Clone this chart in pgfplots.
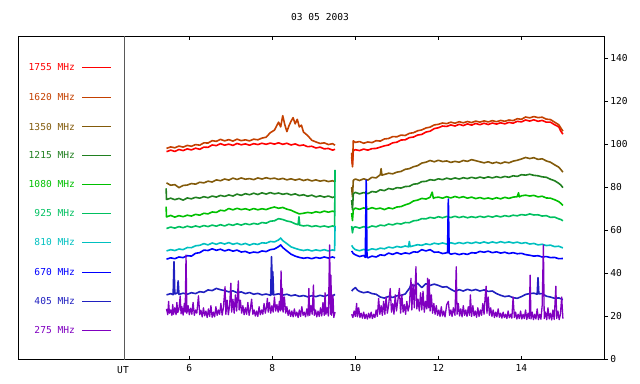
\documentclass[border=0pt]{standalone}
\usepackage{fontspec}
\setmainfont{DejaVu Sans Mono}
\usepackage{pgfplots}
\pgfplotsset{compat=1.18}
\definecolor{c1755}{RGB}{255,0,0}
\definecolor{c1620}{RGB}{196,64,0}
\definecolor{c1350}{RGB}{130,90,10}
\definecolor{c1215}{RGB}{32,128,32}
\definecolor{c1080}{RGB}{0,192,0}
\definecolor{c925}{RGB}{0,192,96}
\definecolor{c810}{RGB}{0,192,192}
\definecolor{c670}{RGB}{0,0,255}
\definecolor{c405}{RGB}{32,32,192}
\definecolor{c275}{RGB}{128,0,192}
\begin{document}
\fontsize{9.6}{11}\selectfont
\begin{tikzpicture}
\path[use as bounding box] (-18bp,-24.5bp) rectangle (622bp,359.5bp);
\begin{axis}[
  at={(0,0)}, anchor=south west,
  scale only axis, width=586bp, height=323.5bp,
  xmin=1.872, xmax=15.99, ymin=0, ymax=150.2,
  axis line style={line width=0.8bp},
  xtick={6,8,10,12,14}, ytick={0,20,40,60,80,100,120,140},
  xtick pos=both, ytick pos=right, yticklabel pos=right,
  tick align=inside, major tick length=4bp,
  tick style={line width=0.8bp, black},
  ytick style={xshift=4bp},
  yticklabel style={anchor=west, xshift=3bp},
  xticklabel style={yshift=-2bp},
  /pgf/number format/assume math mode=true,
  ticklabel style={font=\fontsize{9.6}{11}\selectfont},
  unbounded coords=jump,
  every axis plot/.append style={line width=1.6bp, line join=round},
  clip=true,
]
% 1755 MHz
\addplot[c1755] table {
x y
5.45 96.5
5.55 97.2
5.65 96.6
5.75 97.5
5.85 97.0
5.95 97.8
6.05 97.3
6.15 98.1
6.25 97.6
6.35 98.6
6.45 98.5
6.55 99.6
6.65 99.3
6.75 100.2
6.85 99.5
6.95 100.0
7.05 99.4
7.15 100.3
7.25 99.7
7.35 100.1
7.45 99.5
7.55 100.2
7.65 99.8
7.75 100.4
7.85 99.9
7.95 100.5
8.05 100.0
8.15 100.6
8.25 99.9
8.35 100.4
8.45 99.6
8.55 100.1
8.65 99.3
8.75 99.6
8.85 98.8
8.95 99.0
9.05 98.2
9.15 98.6
9.25 97.8
9.35 98.0
9.45 97.2
9.51 97.6
9.7 nan
9.91 94.0
9.93 90.5
9.95 97.0
10.0 97.4
10.1 97.0
10.2 97.7
10.3 97.2
10.4 97.9
10.5 98.0
10.6 98.6
10.7 99.2
10.8 99.6
10.9 100.6
11.0 100.9
11.1 101.9
11.2 102.0
11.3 103.0
11.4 103.3
11.5 104.2
11.6 104.5
11.7 105.6
11.8 106.0
11.9 107.2
12.0 107.6
12.1 108.4
12.2 108.2
12.3 108.9
12.4 108.4
12.5 109.2
12.6 108.6
12.7 109.4
12.8 108.8
12.9 109.6
13.0 109.0
13.1 109.7
13.2 109.1
13.3 109.8
13.4 109.3
13.5 109.9
13.6 109.4
13.7 110.1
13.8 109.7
13.9 110.6
14.0 110.3
14.1 111.2
14.2 110.7
14.3 111.3
14.4 110.6
14.5 111.0
14.6 110.2
14.7 110.2
14.8 109.0
14.9 108.0
14.95 106.0
15.0 104.6
};
% 1620 MHz
\addplot[c1620] table {
x y
5.45 98.0
5.55 98.7
5.65 98.3
5.75 99.1
5.85 98.6
5.95 99.4
6.05 99.0
6.15 99.8
6.25 99.5
6.35 100.6
6.45 100.5
6.55 101.6
6.65 101.3
6.75 102.2
6.85 101.5
6.95 102.1
7.05 101.4
7.15 102.3
7.25 101.6
7.35 102.0
7.45 101.5
7.55 102.3
7.65 102.0
7.75 102.8
7.85 103.2
7.95 105.3
8.05 106.5
8.15 110.2
8.20 108.0
8.25 113.2
8.30 109.0
8.35 105.8
8.40 108.5
8.45 110.6
8.50 112.3
8.55 109.4
8.60 111.5
8.65 108.0
8.70 108.8
8.75 105.6
8.85 104.0
8.95 101.8
9.05 101.0
9.15 100.3
9.25 100.6
9.35 99.8
9.45 100.2
9.51 99.5
9.7 nan
9.91 96.0
9.93 89.5
9.95 101.5
10.0 100.8
10.1 101.2
10.2 100.4
10.3 101.0
10.4 100.7
10.5 101.6
10.6 101.4
10.7 102.4
10.8 102.6
10.9 103.5
11.0 103.4
11.1 104.2
11.2 104.0
11.3 105.0
11.4 105.3
11.5 106.2
11.6 106.6
11.7 107.5
11.8 107.9
11.9 108.9
12.0 109.2
12.1 109.8
12.2 109.5
12.3 110.2
12.4 109.7
12.5 110.4
12.6 109.9
12.7 110.5
12.8 110.0
12.9 110.7
13.0 110.2
13.1 110.8
13.2 110.3
13.3 110.9
13.4 110.4
13.5 111.0
13.6 110.6
13.7 111.2
13.8 110.9
13.9 111.8
14.0 111.5
14.1 112.6
14.2 112.2
14.3 112.8
14.4 112.3
14.5 112.5
14.6 111.6
14.7 111.4
14.8 110.2
14.9 109.0
14.95 107.5
15.0 106.0
};
% 1350 MHz
\addplot[c1350] table {
x y
5.45 82.0
5.55 80.9
5.65 81.2
5.75 79.8
5.85 80.8
5.95 81.0
6.05 81.7
6.15 81.4
6.25 82.3
6.35 82.0
6.45 82.8
6.55 82.4
6.65 83.4
6.75 83.0
6.85 83.8
6.95 83.3
7.05 84.2
7.15 83.6
7.25 84.3
7.35 83.7
7.45 84.0
7.55 83.5
7.65 84.3
7.75 83.8
7.85 84.4
7.95 83.9
8.05 84.2
8.15 83.6
8.25 84.1
8.35 83.4
8.45 83.9
8.55 83.3
8.65 83.8
8.75 83.1
8.85 83.6
8.95 82.9
9.05 83.4
9.15 82.8
9.25 83.2
9.35 82.6
9.45 83.0
9.51 82.5
9.7 nan
9.91 80.0
9.93 75.5
9.95 83.2
10.0 83.8
10.1 83.1
10.2 83.9
10.3 83.3
10.4 84.6
10.5 84.3
10.6 85.8
10.62 88.6
10.64 85.6
10.7 85.9
10.8 86.5
10.9 86.2
11.0 87.0
11.1 87.3
11.2 88.3
11.3 88.6
11.4 89.5
11.5 90.0
11.6 91.2
11.7 91.6
11.8 92.4
11.9 91.8
12.0 92.5
12.1 91.9
12.2 92.2
12.3 91.5
12.4 92.0
12.5 91.6
12.6 92.4
12.7 92.0
12.8 92.8
12.9 92.3
13.0 91.8
13.1 91.3
13.2 91.8
13.3 91.1
13.4 91.6
13.5 91.0
13.6 91.7
13.7 91.3
13.8 92.1
13.9 92.5
14.0 93.1
14.1 93.8
14.2 93.3
14.3 93.7
14.4 92.9
14.5 93.2
14.6 92.2
14.7 91.6
14.8 90.4
14.9 89.3
14.95 88.2
15.0 87.0
};
% 1215 MHz
\addplot[c1215] table {
x y
5.44 79.5
5.45 74.3
5.55 74.9
5.65 74.2
5.75 74.8
5.85 74.0
5.95 75.0
6.05 74.6
6.15 75.3
6.25 74.9
6.35 75.6
6.45 75.1
6.55 75.9
6.65 75.4
6.75 76.2
6.85 75.7
6.95 76.4
7.05 75.9
7.15 76.8
7.25 76.2
7.35 77.0
7.45 76.5
7.55 77.2
7.65 76.6
7.75 77.4
7.85 76.8
7.95 77.5
8.05 76.9
8.15 77.3
8.25 76.7
8.35 77.1
8.45 76.4
8.55 76.9
8.65 76.1
8.75 76.5
8.85 75.8
8.95 76.3
9.05 75.5
9.15 76.0
9.25 75.4
9.35 75.9
9.45 75.2
9.51 75.7
9.7 nan
9.91 74.0
9.93 69.5
9.95 77.0
10.0 77.6
10.1 76.9
10.2 77.5
10.3 77.0
10.4 78.0
10.5 77.7
10.6 78.8
10.7 78.4
10.8 79.4
10.9 79.0
11.0 79.8
11.1 79.6
11.2 80.3
11.3 80.4
11.4 81.4
11.5 81.6
11.6 82.6
11.7 82.7
11.8 83.5
11.9 83.2
12.0 83.9
12.1 83.5
12.2 84.2
12.3 83.7
12.4 84.3
12.5 83.8
12.6 84.4
12.7 84.0
12.8 84.6
12.9 84.1
13.0 84.7
13.1 84.2
13.2 84.8
13.3 84.3
13.4 84.9
13.5 84.4
13.6 85.0
13.7 84.6
13.8 85.3
13.9 85.0
14.0 85.8
14.1 85.6
14.2 86.0
14.3 85.5
14.4 85.3
14.5 84.8
14.6 84.6
14.7 83.7
14.8 83.0
14.9 81.8
14.95 81.0
15.0 79.8
};
% 1080 MHz
\addplot[c1080] table {
x y
5.44 71.0
5.45 66.2
5.55 66.9
5.65 66.1
5.75 66.8
5.85 66.3
5.95 67.0
6.05 66.6
6.15 67.4
6.25 67.0
6.35 67.9
6.45 67.6
6.55 68.5
6.65 68.3
6.75 69.3
6.85 69.0
6.95 70.1
7.05 69.5
7.15 70.2
7.25 69.6
7.35 70.0
7.45 69.4
7.55 70.1
7.65 69.5
7.75 70.0
7.85 69.6
7.95 70.3
8.05 70.8
8.15 70.2
8.25 70.6
8.35 69.8
8.45 69.3
8.55 68.4
8.65 67.6
8.75 67.9
8.85 68.3
8.95 68.0
9.05 68.6
9.15 68.2
9.25 68.9
9.35 68.4
9.45 68.9
9.51 68.5
9.7 nan
9.91 68.0
9.93 64.5
9.95 69.6
10.0 70.3
10.1 69.7
10.2 70.4
10.3 69.8
10.4 70.5
10.5 69.9
10.6 70.3
10.7 69.6
10.8 70.4
10.9 70.0
11.0 70.8
11.1 71.0
11.2 71.8
11.3 72.4
11.4 73.6
11.5 74.0
11.6 74.8
11.7 74.5
11.8 75.3
11.85 77.7
11.88 74.8
11.9 75.1
12.0 75.4
12.1 74.9
12.2 75.6
12.3 75.0
12.4 75.7
12.5 75.1
12.6 75.6
12.7 74.9
12.8 75.4
12.9 74.7
13.0 75.2
13.1 74.6
13.2 75.0
13.3 74.5
13.4 75.1
13.5 74.6
13.6 75.3
13.7 74.8
13.8 75.4
13.9 75.6
13.93 77.4
13.95 75.5
14.0 76.0
14.1 76.3
14.2 75.9
14.3 76.2
14.4 75.5
14.5 75.8
14.6 75.0
14.7 74.9
14.8 74.2
14.9 73.3
14.95 72.5
15.0 71.5
};
% 925 MHz
\addplot[c925] table {
x y
5.45 60.8
5.55 61.5
5.65 61.0
5.75 61.7
5.85 61.2
5.95 61.9
6.05 61.4
6.15 62.0
6.25 61.5
6.35 62.2
6.45 61.7
6.55 62.4
6.65 61.9
6.75 62.6
6.85 62.0
6.95 62.8
7.05 62.3
7.15 63.0
7.25 62.4
7.35 63.1
7.45 62.6
7.55 63.2
7.65 62.8
7.75 63.6
7.85 63.3
7.95 64.2
8.05 64.4
8.15 65.4
8.25 65.0
8.35 64.3
8.45 63.9
8.55 63.0
8.62 62.6
8.64 66.3
8.66 62.4
8.75 62.0
8.85 62.3
8.95 61.7
9.05 62.1
9.15 61.6
9.25 62.0
9.35 61.5
9.45 62.0
9.50 61.7
9.51 88.0
9.7 nan
9.91 62.0
9.93 58.8
9.95 61.2
10.0 61.6
10.1 61.0
10.2 61.7
10.3 61.2
10.4 62.0
10.5 61.6
10.6 62.4
10.7 62.1
10.8 62.9
10.9 62.5
11.0 63.2
11.1 62.9
11.2 63.6
11.3 63.5
11.4 64.4
11.5 64.6
11.6 65.4
11.7 65.3
11.8 66.0
11.9 65.6
12.0 66.3
12.1 65.8
12.2 66.4
12.3 65.9
12.4 66.5
12.5 65.9
12.6 66.4
12.7 65.8
12.8 66.3
12.9 65.9
13.0 66.5
13.1 66.0
13.2 66.6
13.3 66.1
13.4 66.7
13.5 66.2
13.6 66.8
13.7 66.4
13.8 67.0
13.9 66.7
14.0 67.3
14.1 67.0
14.2 67.6
14.3 67.1
14.4 67.2
14.5 66.6
14.6 66.8
14.7 66.0
14.8 66.1
14.9 65.3
14.95 65.0
15.0 64.4
};
% 810 MHz
\addplot[c810] table {
x y
5.45 50.4
5.55 51.0
5.65 50.6
5.75 51.3
5.85 51.0
5.95 52.0
6.05 51.9
6.15 52.8
6.25 53.0
6.35 53.8
6.45 53.2
6.55 54.1
6.65 53.5
6.75 54.2
6.85 53.6
6.95 54.3
7.05 53.5
7.15 54.0
7.25 53.3
7.35 53.9
7.45 53.1
7.55 53.8
7.65 53.4
7.75 54.2
7.85 54.0
7.95 54.8
8.05 54.6
8.15 55.5
8.20 56.4
8.25 55.2
8.35 53.8
8.45 52.3
8.55 51.6
8.65 51.0
8.75 50.6
8.85 51.0
8.95 50.4
9.05 50.9
9.15 50.5
9.25 51.0
9.35 50.4
9.45 50.9
9.50 50.6
9.51 62.0
9.7 nan
9.91 53.0
9.95 51.8
10.0 51.0
10.1 50.5
10.2 51.1
10.3 50.7
10.4 51.4
10.5 51.0
10.6 51.7
10.7 51.4
10.8 52.2
10.9 51.8
11.0 52.5
11.1 52.1
11.2 52.7
11.28 52.3
11.30 54.8
11.32 52.4
11.4 52.8
11.5 53.3
11.6 53.0
11.7 53.7
11.8 53.3
11.9 54.0
12.0 53.6
12.1 54.1
12.2 53.6
12.3 54.2
12.4 53.7
12.5 54.3
12.6 53.8
12.7 54.4
12.8 53.9
12.9 54.5
13.0 54.0
13.1 54.6
13.2 54.0
13.3 54.6
13.4 54.1
13.5 54.7
13.6 54.2
13.7 54.6
13.8 54.1
13.9 54.5
14.0 53.9
14.1 54.3
14.2 53.6
14.3 53.9
14.4 53.2
14.5 53.5
14.6 52.9
14.7 53.1
14.8 52.4
14.9 52.6
15.0 51.8
};
% 670 MHz
\addplot[c670] table {
x y
5.45 46.6
5.55 47.2
5.65 46.8
5.75 47.6
5.85 47.3
5.95 48.2
6.05 48.0
6.15 49.3
6.25 49.6
6.35 50.8
6.45 50.6
6.55 51.4
6.65 50.7
6.75 51.2
6.85 50.4
6.95 51.0
7.05 50.3
7.15 50.8
7.25 49.9
7.35 50.2
7.45 49.4
7.55 49.9
7.65 49.6
7.75 50.4
7.85 50.1
7.95 51.0
8.05 51.3
8.15 52.4
8.20 53.2
8.25 52.0
8.35 50.4
8.45 48.9
8.55 48.0
8.65 47.4
8.75 47.0
8.85 47.3
8.95 46.8
9.05 47.4
9.15 47.0
9.25 47.6
9.35 47.1
9.45 47.6
9.51 47.2
9.7 nan
9.91 50.4
9.95 49.2
10.0 48.6
10.1 47.8
10.2 48.3
10.24 47.4
10.26 83.3
10.28 47.6
10.3 47.2
10.4 48.0
10.5 47.6
10.6 48.6
10.7 48.3
10.8 49.4
10.9 48.8
11.0 49.6
11.1 48.9
11.2 49.5
11.3 49.1
11.4 50.0
11.5 49.8
11.6 51.0
11.7 50.4
11.8 51.0
11.9 49.8
12.0 49.9
12.1 49.2
12.22 49.6
12.24 74.5
12.26 49.4
12.3 48.9
12.4 49.3
12.5 48.7
12.6 49.2
12.7 48.8
12.8 49.6
12.9 49.4
13.0 50.2
13.1 49.8
13.2 50.3
13.3 49.6
13.4 50.0
13.5 49.4
13.6 49.8
13.7 49.2
13.8 49.6
13.9 49.1
14.0 49.3
14.1 48.7
14.2 48.4
14.3 48.0
14.4 48.2
14.5 47.6
14.6 47.8
14.7 47.3
14.8 47.4
14.9 46.8
15.0 46.9
};
% 405 MHz
\addplot[c405] table {
x y
5.45 30.0
5.55 30.6
5.61 30.1
5.63 45.4
5.65 30.4
5.71 30.9
5.73 36.5
5.75 30.2
5.85 30.8
5.95 30.3
6.05 31.0
6.15 30.6
6.25 31.5
6.35 31.2
6.45 32.3
6.55 32.0
6.65 33.0
6.75 32.4
6.85 32.0
6.95 31.4
7.05 31.9
7.15 31.0
7.25 31.4
7.35 30.6
7.45 31.1
7.55 30.3
7.65 30.7
7.75 30.0
7.85 30.4
7.96 29.8
7.98 47.7
8.00 30.2
8.01 40.8
8.03 30.0
8.15 30.5
8.25 29.9
8.35 30.3
8.45 29.6
8.55 30.0
8.65 29.3
8.75 29.7
8.85 29.1
8.95 29.6
9.05 29.2
9.15 29.8
9.25 29.3
9.35 30.0
9.45 29.6
9.51 30.2
9.7 nan
9.91 31.8
9.95 32.6
10.0 33.4
10.05 32.2
10.1 31.6
10.2 31.0
10.3 31.4
10.4 30.6
10.5 30.3
10.6 29.0
10.7 28.5
10.8 29.3
10.9 28.8
11.0 29.6
11.1 29.8
11.2 30.4
11.3 33.0
11.35 35.0
11.4 34.0
11.5 35.4
11.6 33.4
11.7 35.2
11.8 34.4
11.9 35.0
12.0 34.4
12.1 33.6
12.2 33.8
12.3 32.6
12.4 31.6
12.5 32.4
12.6 31.8
12.7 32.6
12.8 32.0
12.9 32.5
13.0 31.8
13.1 32.3
13.2 31.6
13.3 31.8
13.4 30.6
13.5 29.8
13.6 29.2
13.7 29.5
13.8 28.7
13.9 28.4
14.0 29.2
14.1 30.2
14.2 30.6
14.3 30.8
14.38 30.3
14.40 38.0
14.42 30.5
14.5 30.6
14.6 29.4
14.7 29.0
14.8 28.4
14.9 28.6
15.0 27.8
};
% 275 MHz
\addplot[c275, line width=1.3bp] table {
x y
5.45 23.5
5.48 20.8
5.50 27.0
5.52 21.5
5.55 23.0
5.58 20.5
5.60 25.5
5.62 21.0
5.65 24.0
5.68 20.8
5.70 26.5
5.72 21.8
5.75 23.4
5.78 29.5
5.80 21.2
5.82 24.5
5.85 20.6
5.88 26.0
5.90 22.0
5.92 48.5
5.94 21.5
5.97 25.0
6.00 20.8
6.03 23.8
6.06 21.0
6.09 26.5
6.12 20.5
6.15 23.0
6.18 21.5
6.22 29.6
6.25 20.8
6.28 22.8
6.31 19.8
6.34 24.0
6.37 20.3
6.40 22.5
6.43 19.5
6.46 23.5
6.49 20.0
6.52 25.0
6.55 19.6
6.58 22.0
6.61 19.8
6.64 24.5
6.67 20.5
6.70 23.0
6.73 21.0
6.76 26.0
6.79 20.6
6.82 24.0
6.86 33.8
6.88 21.0
6.91 27.5
6.94 20.8
6.97 25.0
7.00 35.4
7.02 22.0
7.05 28.0
7.08 21.5
7.11 30.0
7.14 22.5
7.18 36.5
7.20 23.0
7.23 27.5
7.26 21.5
7.29 25.0
7.32 20.8
7.35 24.0
7.38 21.0
7.41 26.5
7.44 20.5
7.47 23.5
7.50 28.0
7.53 21.0
7.56 23.0
7.59 20.2
7.62 22.5
7.65 20.0
7.68 24.5
7.71 20.8
7.74 23.0
7.77 21.0
7.80 26.0
7.83 21.5
7.86 24.5
7.88 28.4
7.90 22.0
7.93 26.5
7.96 21.5
7.99 25.0
8.02 22.0
8.05 29.0
8.08 22.5
8.11 25.5
8.14 22.0
8.17 27.0
8.19 22.5
8.21 41.1
8.23 23.0
8.24 33.0
8.26 22.0
8.29 29.0
8.32 21.5
8.35 24.5
8.38 20.5
8.41 23.0
8.44 20.0
8.47 22.5
8.50 19.8
8.53 23.5
8.56 20.2
8.59 22.0
8.62 19.5
8.65 23.0
8.68 20.0
8.71 24.5
8.74 20.5
8.77 22.0
8.80 19.8
8.83 23.5
8.86 20.2
8.88 33.0
8.90 20.5
8.93 25.0
8.96 21.0
8.99 34.6
9.01 20.5
9.04 23.0
9.07 19.8
9.10 22.5
9.13 20.0
9.16 24.0
9.19 20.2
9.22 26.5
9.25 20.5
9.27 31.0
9.29 21.0
9.32 24.0
9.35 20.2
9.38 53.2
9.40 21.0
9.41 39.2
9.43 20.5
9.46 30.0
9.48 19.5
9.51 22.0
9.7 nan
9.91 21.0
9.94 19.5
9.97 22.5
10.00 20.0
10.03 26.0
10.05 19.8
10.08 24.0
10.11 19.5
10.14 21.5
10.17 19.2
10.20 22.0
10.23 19.0
10.26 21.0
10.29 18.8
10.32 21.5
10.35 19.3
10.38 22.0
10.41 19.0
10.44 21.0
10.47 19.5
10.50 23.0
10.53 20.0
10.56 28.4
10.59 21.0
10.62 25.0
10.65 20.5
10.68 27.0
10.71 21.0
10.74 29.0
10.77 21.5
10.80 25.0
10.84 33.0
10.87 22.0
10.90 26.0
10.93 21.0
10.96 30.0
10.99 22.5
11.02 27.0
11.06 33.0
11.09 21.5
11.12 30.0
11.15 22.0
11.18 25.5
11.21 21.0
11.24 27.0
11.27 22.5
11.30 25.0
11.34 37.7
11.36 23.0
11.39 35.0
11.42 24.0
11.46 43.1
11.48 23.5
11.51 28.0
11.54 22.5
11.57 31.0
11.60 23.0
11.63 31.7
11.66 22.0
11.69 27.0
11.72 23.5
11.74 37.7
11.76 24.0
11.78 37.0
11.80 22.5
11.83 30.0
11.86 21.5
11.89 26.0
11.92 21.0
11.95 25.0
11.98 20.5
12.01 23.0
12.04 20.0
12.07 24.5
12.10 20.2
12.13 22.5
12.16 19.8
12.20 25.5
12.24 27.0
12.27 20.5
12.30 23.0
12.33 20.0
12.36 24.0
12.40 20.5
12.43 43.1
12.45 21.0
12.48 26.0
12.51 20.2
12.54 23.5
12.57 19.8
12.60 25.0
12.63 20.5
12.66 23.0
12.69 20.0
12.72 24.5
12.75 20.5
12.77 30.0
12.80 20.0
12.83 25.0
12.86 20.3
12.89 22.5
12.92 19.6
12.95 24.0
12.98 20.0
13.01 23.0
13.04 20.5
13.07 26.0
13.10 21.0
13.13 30.0
13.15 34.0
13.17 21.5
13.20 29.0
13.23 20.5
13.26 24.0
13.29 20.0
13.32 23.0
13.35 19.5
13.38 22.0
13.41 19.8
13.44 23.5
13.47 19.6
13.50 21.5
13.53 19.2
13.56 22.0
13.59 19.5
13.62 21.0
13.65 19.0
13.68 22.5
13.71 19.4
13.74 21.0
13.77 19.2
13.80 29.0
13.83 19.5
13.86 22.0
13.89 18.8
13.92 21.0
13.95 19.0
13.98 22.5
14.01 18.8
14.04 21.0
14.07 19.0
14.10 23.0
14.13 18.6
14.16 21.5
14.19 19.0
14.21 39.2
14.23 18.8
14.26 22.0
14.29 18.5
14.32 21.0
14.35 18.8
14.38 23.5
14.41 18.5
14.44 21.0
14.47 18.7
14.50 25.0
14.53 53.2
14.55 19.0
14.58 22.0
14.61 18.5
14.64 24.0
14.67 18.8
14.70 21.5
14.73 18.4
14.76 23.0
14.79 18.6
14.83 34.0
14.85 19.0
14.88 22.5
14.91 18.5
14.94 21.0
14.97 29.0
15.00 19.0
};
\end{axis}
% divider and UT label
\draw[gray!70!black, line width=0.8bp] (106.3bp,0) -- (106.3bp,323.5bp);
\node[font=\fontsize{9.6}{11}\selectfont] at (105bp,-11bp) {UT};
% title
\node[font=\fontsize{9.6}{11}\selectfont] at (302bp,342bp) {03 05 2003};
% legend
\foreach \lab/\col/\yy in {1755 MHz/c1755/292.2, 1620 MHz/c1620/262.2, 1350 MHz/c1350/232.8, 1215 MHz/c1215/204.2, 1080 MHz/c1080/175.2, 925 MHz/c925/146.2, 810 MHz/c810/117.2, 670 MHz/c670/87.5, 405 MHz/c405/58.5, 275 MHz/c275/29.2}{
  \node[anchor=east, inner sep=0pt, text=\col, font=\fontsize{9.6}{11}\selectfont] at (57bp,\yy bp) {\lab};
  \draw[\col, line width=0.9bp] (64bp,\yy bp) -- (92.7bp,\yy bp);
}
\end{tikzpicture}
\end{document}
